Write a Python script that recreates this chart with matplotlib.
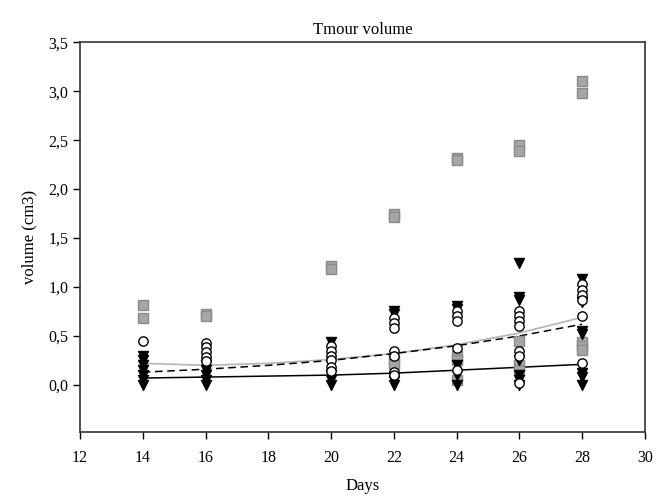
import matplotlib
matplotlib.use("Agg")
import matplotlib.pyplot as plt
from matplotlib.ticker import FuncFormatter

plt.rcParams['font.family'] = ['Liberation Serif', 'DejaVu Serif']

# gray squares (day, volume)
sq_days = [14, 14, 16, 16, 20, 20, 22, 22, 22, 22, 24, 24, 24, 24, 24,
           26, 26, 26, 26, 26, 28, 28, 28, 28, 28]
sq_vals = [0.82, 0.68, 0.72, 0.70, 1.21, 1.18, 1.75, 1.72, 0.25, 0.21,
           2.32, 2.30, 0.30, 0.25, 0.05, 2.45, 2.39, 0.45, 0.20, 0.15,
           3.10, 2.98, 0.44, 0.40, 0.36]

# white circles
ci_days = [14, 16, 16, 16, 16, 16, 20, 20, 20, 20, 20, 20,
           22, 22, 22, 22, 22, 22, 22, 24, 24, 24, 24, 24,
           26, 26, 26, 26, 26, 26, 26, 28, 28, 28, 28, 28, 28]
ci_vals = [0.45, 0.43, 0.39, 0.34, 0.29, 0.24, 0.40, 0.35, 0.30, 0.25, 0.18, 0.14,
           0.68, 0.63, 0.58, 0.35, 0.30, 0.13, 0.10, 0.75, 0.70, 0.65, 0.38, 0.15,
           0.75, 0.70, 0.65, 0.60, 0.35, 0.30, 0.02, 1.03, 0.97, 0.92, 0.70, 0.22, 0.87]

# black down triangles
tr_days = [14, 14, 14, 14, 14, 14, 14, 16, 16, 16, 16, 16,
           20, 20, 20, 20, 22, 22, 22, 22, 22,
           24, 24, 24, 24, 24, 26, 26, 26, 26, 26, 26, 26,
           28, 28, 28, 28, 28, 28, 28]
tr_vals = [0.30, 0.25, 0.20, 0.15, 0.10, 0.05, 0.00, 0.20, 0.15, 0.10, 0.05, 0.00,
           0.44, 0.10, 0.05, 0.00, 0.75, 0.72, 0.08, 0.04, 0.00,
           0.81, 0.78, 0.20, 0.10, 0.00, 1.25, 0.90, 0.87, 0.25, 0.10, 0.05, 0.00,
           1.08, 0.85, 0.55, 0.52, 0.12, 0.08, 0.00]

# fitted curves, read at each day
fit_days = [14, 16, 18, 20, 22, 24, 26, 28]
fit_gray = [0.22, 0.20, 0.22, 0.26, 0.32, 0.41, 0.53, 0.69]
fit_dash = [0.13, 0.16, 0.20, 0.25, 0.32, 0.40, 0.50, 0.62]
fit_black = [0.07, 0.08, 0.09, 0.10, 0.12, 0.15, 0.18, 0.21]

fig = plt.figure(figsize=(6.56, 4.97), dpi=100)
ax = fig.add_axes([0.122, 0.131, 0.861, 0.784])

ax.plot(fit_days, fit_gray, color='#b4b4b4', lw=1.2, zorder=2)
ax.plot(fit_days, fit_dash, color='black', lw=1.1, ls=(0, (5, 3)), zorder=2)
ax.plot(fit_days, fit_black, color='black', lw=1.1, zorder=2)

ax.scatter(sq_days, sq_vals, marker='s', s=45, facecolor='#a6a6a6',
           edgecolor='#8a8a8a', lw=1, zorder=3)
ax.scatter(tr_days, tr_vals, marker='v', s=55, facecolor='black',
           edgecolor='black', lw=0.8, zorder=4)
ax.scatter(ci_days, ci_vals, marker='o', s=45, facecolor='white',
           edgecolor='black', lw=1, zorder=5)

ax.set_xlim(12, 30)
ax.set_ylim(-0.48, 3.5)
ax.set_xticks(range(12, 31, 2))
ax.set_yticks([0, 0.5, 1.0, 1.5, 2.0, 2.5, 3.0, 3.5])
ax.yaxis.set_major_formatter(FuncFormatter(lambda v, p: ('%.1f' % v).replace('.', ',')))
ax.tick_params(direction='out', length=5, width=1, labelsize=11.5, top=False, right=False)
ax.tick_params(axis='x', pad=8)
for s in ax.spines.values():
    s.set_linewidth(1.2)
    s.set_color('#333333')

ax.set_title('Tmour volume', fontsize=12, pad=6)
ax.set_xlabel('Days', fontsize=12, labelpad=9)
ax.set_ylabel('volume (cm3)', fontsize=12, labelpad=8)

fig.savefig('out.png', dpi=100)
